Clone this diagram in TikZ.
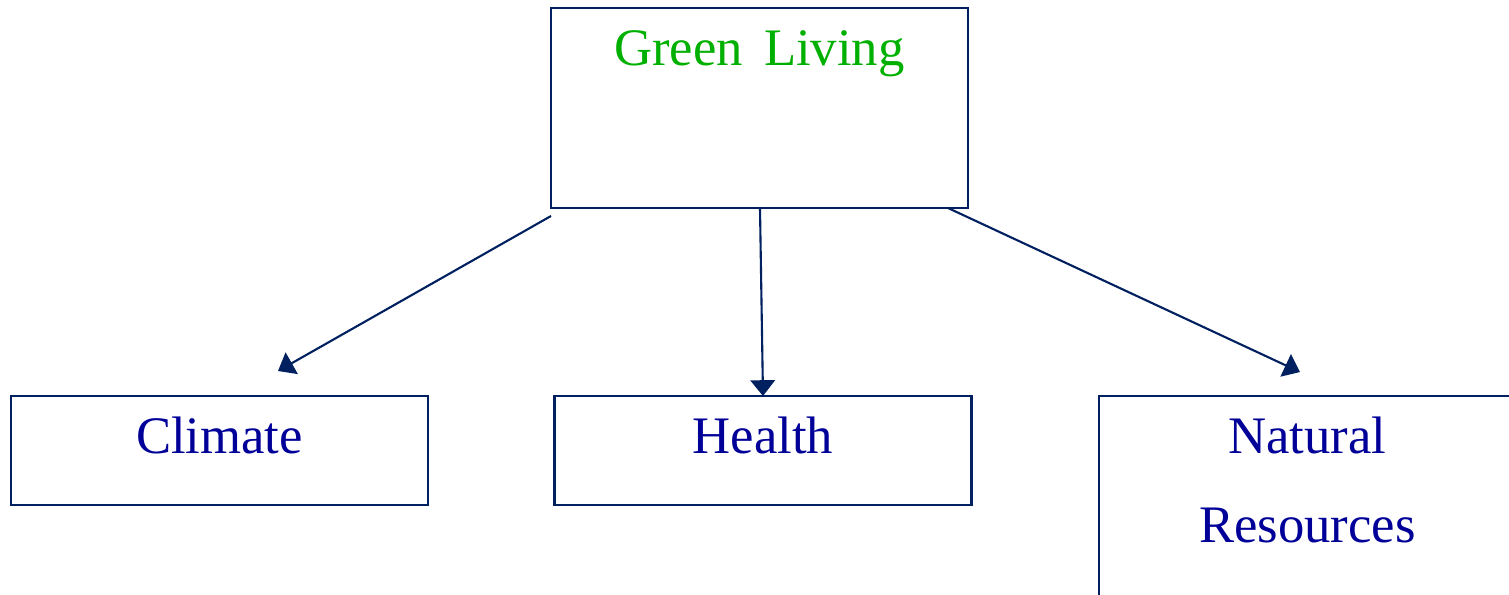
\documentclass[tikz,border=0pt]{standalone}
\usepackage{fontspec}
\setmainfont{Liberation Serif}
\usetikzlibrary{arrows.meta, calc}
\definecolor{navy}{RGB}{0,32,96}
\definecolor{txtblue}{RGB}{0,0,153}
\definecolor{txtgreen}{RGB}{0,176,0}

\begin{document}
\begin{tikzpicture} [x=0.02cm, y=-0.02cm,
        box/.style = {draw=navy, line width=1.2pt, minimum width=8.34cm, inner sep=0pt, outer sep=0pt},
        lbl/.style = {anchor=base, inner sep=0pt, text=txtblue, font=\fontsize{30}{36}\selectfont},
        arr/.style = {-{Triangle[length=9pt, width=14pt]}, navy, line width=1.2pt}]
        \useasboundingbox (0,0) rectangle (1509,595);
        \clip (0,0) rectangle (1509,595);

        \node (gl) [box, minimum height=4cm] at (759.5,108) {};
        \node (climate) [box, minimum height=2.18cm] at (219.5,450.5) {};
        \node (health) [box, minimum height=2.18cm] at (763,450.5) {};
        \node (natural) [box, minimum height=5cm] at (1307.5,521) {};

        \node (gl-txt) [lbl, text=txtgreen] at ($(gl.north)+(0,57)$) {Green\hspace{0.15em} Living};
        \node (climate-txt) [lbl] at ($(climate.north)+(0,57)$) {Climate};
        \node (health-txt) [lbl] at ($(health.north)+(0,57)$) {Health};
        \node (natural-txt) [lbl] at ($(natural.north)+(0,57)$) {Natural};
        \node (resources-txt) [lbl] at ($(natural.north)+(0,146)$) {Resources};

        \draw [arr] ($(gl.south west)+(0,8)$) -- ($(climate.north)+(58.5,-25)$);
        \draw [arr] ($(gl.south)+(0.5,0)$) -- (health.north);
        \draw [arr] ($(gl.south east)+(-20,0)$) -- ($(natural.north)+(-7.5,-24)$);
    \end{tikzpicture}
\end{document}
